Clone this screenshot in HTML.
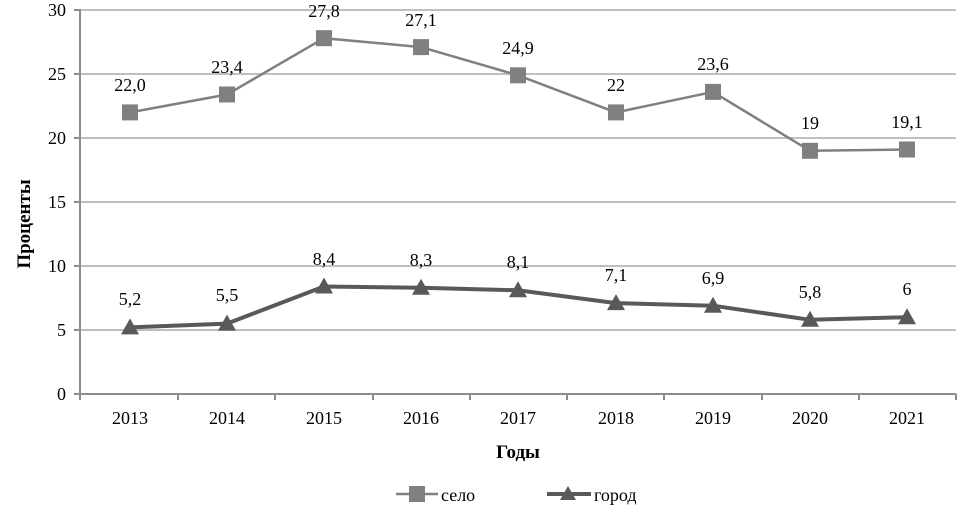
<!DOCTYPE html>
<html><head><meta charset="utf-8"><style>body{margin:0;background:#fff}svg{display:block}</style></head>
<body>
<svg width="974" height="518" xmlns="http://www.w3.org/2000/svg" font-family="Liberation Serif, serif">
<g stroke="#bfbfbf" stroke-width="2">
<line x1="80" y1="10" x2="956" y2="10"/>
<line x1="80" y1="74" x2="956" y2="74"/>
<line x1="80" y1="138" x2="956" y2="138"/>
<line x1="80" y1="202" x2="956" y2="202"/>
<line x1="80" y1="266" x2="956" y2="266"/>
<line x1="80" y1="330" x2="956" y2="330"/>
</g>
<g stroke="#8c8c8c" stroke-width="2">
<line x1="80" y1="9" x2="80" y2="394"/>
<line x1="80" y1="394" x2="956" y2="394"/>
<line x1="74" y1="10" x2="80" y2="10"/><line x1="74" y1="74" x2="80" y2="74"/><line x1="74" y1="138" x2="80" y2="138"/>
<line x1="74" y1="202" x2="80" y2="202"/><line x1="74" y1="266" x2="80" y2="266"/><line x1="74" y1="330" x2="80" y2="330"/><line x1="74" y1="394" x2="80" y2="394"/>
<line x1="178" y1="394" x2="178" y2="400"/><line x1="275" y1="394" x2="275" y2="400"/><line x1="373" y1="394" x2="373" y2="400"/>
<line x1="470" y1="394" x2="470" y2="400"/><line x1="567" y1="394" x2="567" y2="400"/><line x1="664" y1="394" x2="664" y2="400"/>
<line x1="762" y1="394" x2="762" y2="400"/><line x1="859" y1="394" x2="859" y2="400"/><line x1="956" y1="394" x2="956" y2="400"/>
<line x1="80" y1="394" x2="80" y2="400"/>
</g>
<g font-size="18" text-anchor="end" fill="#000">
<text x="66" y="16">30</text><text x="66" y="80">25</text><text x="66" y="144">20</text><text x="66" y="208">15</text>
<text x="66" y="272">10</text><text x="66" y="336">5</text><text x="66" y="400">0</text>
</g>
<g font-size="18" text-anchor="middle" fill="#000">
<text x="130" y="424">2013</text><text x="227" y="424">2014</text><text x="324" y="424">2015</text><text x="421" y="424">2016</text>
<text x="518" y="424">2017</text><text x="616" y="424">2018</text><text x="713" y="424">2019</text><text x="810" y="424">2020</text><text x="907" y="424">2021</text>
</g>
<text x="518" y="458" font-size="19" font-weight="bold" text-anchor="middle">Годы</text>
<text transform="translate(30,224) rotate(-90)" font-size="19" font-weight="bold" text-anchor="middle">Проценты</text>
<!-- село -->
<polyline fill="none" stroke="#808080" stroke-width="2.5" points="130,112.4 227,94.5 324,38.2 421,47.1 518,75.3 616,112.4 713,91.9 810,150.8 907,149.5"/>
<g fill="#808080">
<rect x="122" y="104.4" width="16" height="16"/><rect x="219" y="86.5" width="16" height="16"/><rect x="316" y="30.2" width="16" height="16"/>
<rect x="413" y="39.1" width="16" height="16"/><rect x="510" y="67.3" width="16" height="16"/><rect x="608" y="104.4" width="16" height="16"/>
<rect x="705" y="83.9" width="16" height="16"/><rect x="802" y="142.8" width="16" height="16"/><rect x="899" y="141.5" width="16" height="16"/>
</g>
<g font-size="18" text-anchor="middle">
<text x="130" y="91">22,0</text><text x="227" y="73">23,4</text><text x="324" y="17">27,8</text><text x="421" y="26">27,1</text>
<text x="518" y="54">24,9</text><text x="616" y="91">22</text><text x="713" y="70">23,6</text><text x="810" y="129">19</text><text x="907" y="128">19,1</text>
</g>
<!-- город -->
<polyline fill="none" stroke="#595959" stroke-width="4" points="130,327.4 227,323.6 324,286.5 421,287.8 518,290.3 616,303.1 713,305.7 810,319.8 907,317.2"/>
<g fill="#595959">
<polygon points="121,334.4 139,334.4 130,318.4"/><polygon points="218,330.6 236,330.6 227,314.6"/><polygon points="315,293.5 333,293.5 324,277.5"/>
<polygon points="412,294.8 430,294.8 421,278.8"/><polygon points="509,297.3 527,297.3 518,281.3"/><polygon points="607,310.1 625,310.1 616,294.1"/>
<polygon points="704,312.7 722,312.7 713,296.7"/><polygon points="801,326.8 819,326.8 810,310.8"/><polygon points="898,324.2 916,324.2 907,308.2"/>
</g>
<g font-size="18" text-anchor="middle">
<text x="130" y="305">5,2</text><text x="227" y="301">5,5</text><text x="324" y="265">8,4</text><text x="421" y="266">8,3</text>
<text x="518" y="268">8,1</text><text x="616" y="281">7,1</text><text x="713" y="284">6,9</text><text x="810" y="298">5,8</text><text x="907" y="295">6</text>
</g>
<!-- legend -->
<line x1="396" y1="494" x2="438" y2="494" stroke="#808080" stroke-width="2.5"/>
<rect x="409" y="486" width="16" height="16" fill="#808080"/>
<text x="441" y="501" font-size="18">село</text>
<line x1="547" y1="494" x2="591" y2="494" stroke="#595959" stroke-width="4"/>
<polygon points="560,500 576,500 568,486" fill="#595959"/>
<text x="594" y="501" font-size="18">город</text>
</svg>
</body></html>
